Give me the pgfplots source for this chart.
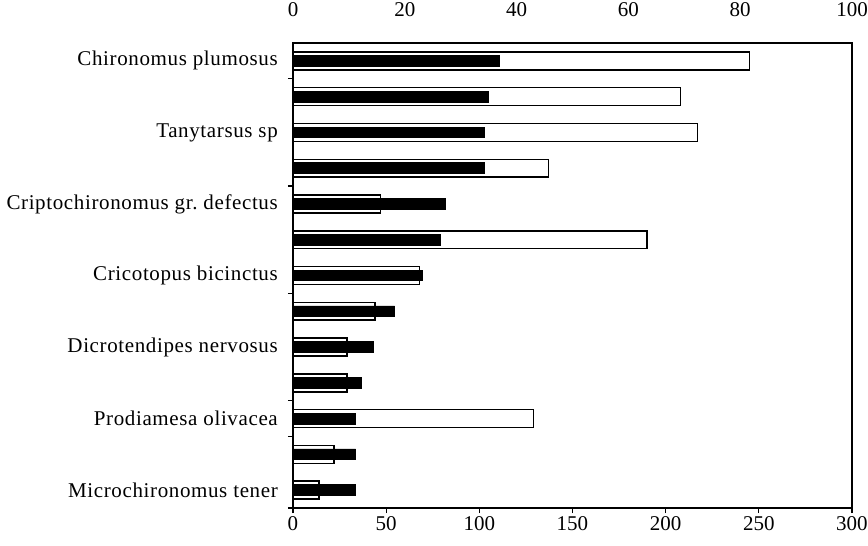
\documentclass[border=0pt]{standalone}
\usepackage{fontspec}
\setmainfont{Liberation Serif}
\newfontfamily\labelfont[LetterSpace=3]{Liberation Serif}
\usepackage{pgfplots}
\pgfplotsset{compat=1.18}

\begin{document}
\begin{tikzpicture}
\pgfplotsset{
  every axis/.append style={
    scale only axis, width=559pt, height=465pt,
    ymin=0.5, ymax=13.5, y dir=reverse,
    axis line style={line width=1.6pt},
    tick style={line width=1.2pt, black},
    tick label style={font=\fontsize{21}{24}\selectfont},
    /pgf/number format/assume math mode=true,
  },
}
% white bars, bottom scale
\begin{axis}[
  xmin=0, xmax=300, xtick={0,50,...,300},
  xtick pos=bottom, ytick pos=left, tick align=outside,
  major tick length=5pt,
  ytick={1.5,4.5,7.5,10.5,11.5,13.5}, yticklabels={},
  extra y ticks={1,3,5,7,9,11,13},
  extra y tick labels={Chironomus plumosus, Tanytarsus sp, Criptochironomus gr.\ defectus\hspace{5pt}, Cricotopus bicinctus, Dicrotendipes nervosus, Prodiamesa olivacea, Microchironomus tener},
  extra y tick style={major tick length=0pt,
    yticklabel style={font=\labelfont\fontsize{21}{24}\selectfont}},
  xticklabel style={inner sep=0pt, yshift=-3pt},
  yticklabel style={inner sep=0pt, xshift=-15pt},
]
\addplot[xbar, bar shift=0pt, bar width=0.5, fill=white, draw=black, line width=1.5pt] coordinates {
  (245,1) (208,2) (217,3) (137,4) (47,5) (190,6) (68,7)
  (44,8) (29,9) (29,10) (129,11) (22,12) (14,13)
};
\end{axis}
% black bars, top scale
\begin{axis}[
  xmin=0, xmax=100, xtick={0,20,...,100},
  xticklabel pos=upper, ytick=\empty, major tick length=0pt,
  xticklabel style={inner sep=0pt, yshift=26pt},
]
\addplot[xbar, bar shift=0pt, bar width=0.3, fill=black, draw=black, line width=0.8pt] coordinates {
  (37,1) (35,2) (34.3,3) (34.3,4) (27.3,5) (26.3,6) (23.2,7)
  (18.2,8) (14.3,9) (12.3,10) (11.2,11) (11.2,12) (11.2,13)
};
\end{axis}
\pgfresetboundingbox
\path (-293pt,-38pt) rectangle (575pt,508pt);
\end{tikzpicture}
\end{document}
